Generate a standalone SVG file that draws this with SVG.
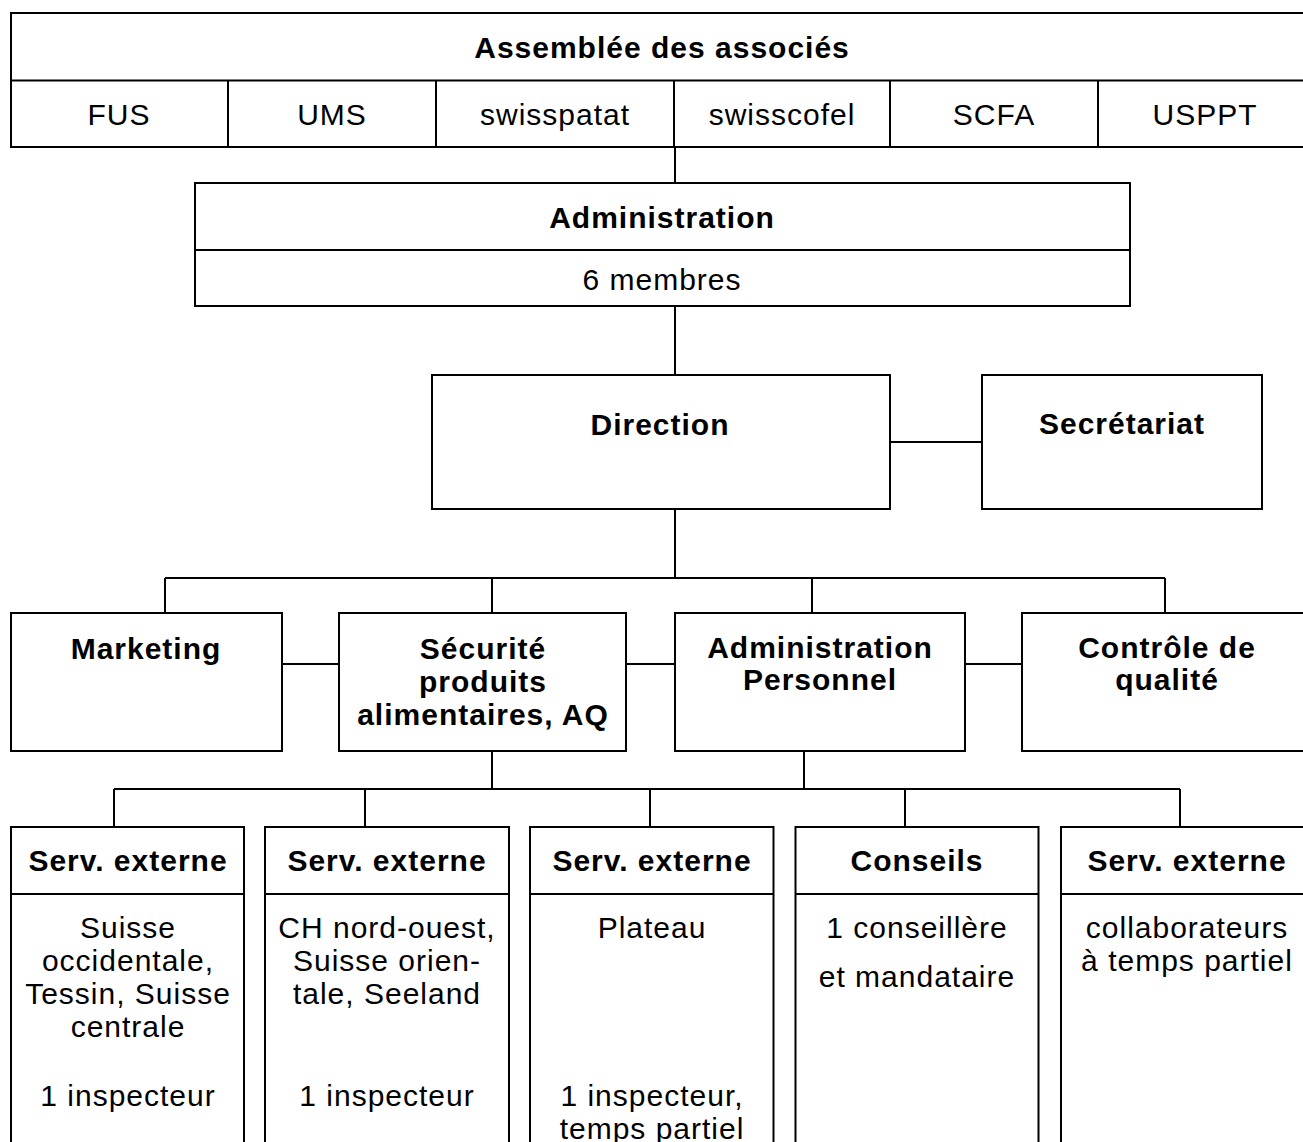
<svg xmlns="http://www.w3.org/2000/svg" width="1303" height="1142" viewBox="0 0 1303 1142">
<style>
.b{fill:#fff;stroke:#000;stroke-width:2}
.l{fill:none;stroke:#000;stroke-width:2}
text{font-family:"Liberation Sans",Arial,sans-serif;font-size:30px;letter-spacing:1px;text-anchor:middle;fill:#000}
.h{font-weight:bold}
</style>
<rect width="1303" height="1142" fill="#fff"/>
<g id="connectors" class="l">
<path d="M675 147V183M675 306V375M890 442H982M675 509V578M165 578H1165M165 578V613M492 578V613M812 578V613M1165 578V613"/>
<path d="M282 664H339M626 664H675M965 664H1022"/>
<path d="M492 751V789M804 751V789M114 789H1180M114 789V827M365 789V827M650 789V827M905 789V827M1180 789V827"/>
</g>
<g id="assemblee">
<rect class="b" x="11" y="13" width="1302" height="134"/>
<path class="l" d="M11 80.5H1313M228 80.5V147M436 80.5V147M674 80.5V147M890 80.5V147M1098 80.5V147"/>
<text class="h" x="662" y="58">Assemblée des associés</text>
<text x="119" y="125">FUS</text>
<text x="332" y="125">UMS</text>
<text x="555" y="125">swisspatat</text>
<text x="782" y="125">swisscofel</text>
<text x="994" y="125">SCFA</text>
<text x="1205" y="125">USPPT</text>
</g>
<g id="administration">
<rect class="b" x="195" y="183" width="935" height="123"/>
<path class="l" d="M195 250H1130"/>
<text class="h" x="662" y="228">Administration</text>
<text x="662" y="290">6 membres</text>
</g>
<g id="direction">
<rect class="b" x="432" y="375" width="458" height="134"/>
<text class="h" x="660" y="435">Direction</text>
</g>
<g id="secretariat">
<rect class="b" x="982" y="375" width="280" height="134"/>
<text class="h" x="1122" y="434">Secrétariat</text>
</g>
<g id="marketing">
<rect class="b" x="11" y="613" width="271" height="138"/>
<text class="h" x="146" y="659">Marketing</text>
</g>
<g id="securite">
<rect class="b" x="339" y="613" width="287" height="138"/>
<text class="h" x="483" y="659">Sécurité</text>
<text class="h" x="483" y="692">produits</text>
<text class="h" x="483" y="725">alimentaires, AQ</text>
</g>
<g id="admin-personnel">
<rect class="b" x="675" y="613" width="290" height="138"/>
<text class="h" x="820" y="658">Administration</text>
<text class="h" x="820" y="690">Personnel</text>
</g>
<g id="controle">
<rect class="b" x="1022" y="613" width="291" height="138"/>
<text class="h" x="1167" y="658">Contrôle de</text>
<text class="h" x="1167" y="690">qualité</text>
</g>
<g id="serv1">
<rect class="b" x="11" y="827" width="233" height="330"/>
<path class="l" d="M11 894H244"/>
<text class="h" x="128" y="871">Serv. externe</text>
<text x="128" y="938">Suisse</text>
<text x="128" y="971">occidentale,</text>
<text x="128" y="1004">Tessin, Suisse</text>
<text x="128" y="1037">centrale</text>
<text x="128" y="1106">1 inspecteur</text>
</g>
<g id="serv2">
<rect class="b" x="265" y="827" width="244" height="330"/>
<path class="l" d="M265 894H509"/>
<text class="h" x="387" y="871">Serv. externe</text>
<text x="387" y="938">CH nord-ouest,</text>
<text x="387" y="971">Suisse orien-</text>
<text x="387" y="1004">tale, Seeland</text>
<text x="387" y="1106">1 inspecteur</text>
</g>
<g id="serv3">
<rect class="b" x="530" y="827" width="243.5" height="330"/>
<path class="l" d="M530 894H773.5"/>
<text class="h" x="652" y="871">Serv. externe</text>
<text x="652" y="938">Plateau</text>
<text x="652" y="1106">1 inspecteur,</text>
<text x="652" y="1139">temps partiel</text>
</g>
<g id="conseils">
<rect class="b" x="795.5" y="827" width="243" height="330"/>
<path class="l" d="M795.5 894H1038.5"/>
<text class="h" x="917" y="871">Conseils</text>
<text x="917" y="938">1 conseillère</text>
<text x="917" y="987">et mandataire</text>
</g>
<g id="serv5">
<rect class="b" x="1061" y="827" width="252" height="330"/>
<path class="l" d="M1061 894H1313"/>
<text class="h" x="1187" y="871">Serv. externe</text>
<text x="1187" y="938">collaborateurs</text>
<text x="1187" y="971">à temps partiel</text>
</g>
</svg>
